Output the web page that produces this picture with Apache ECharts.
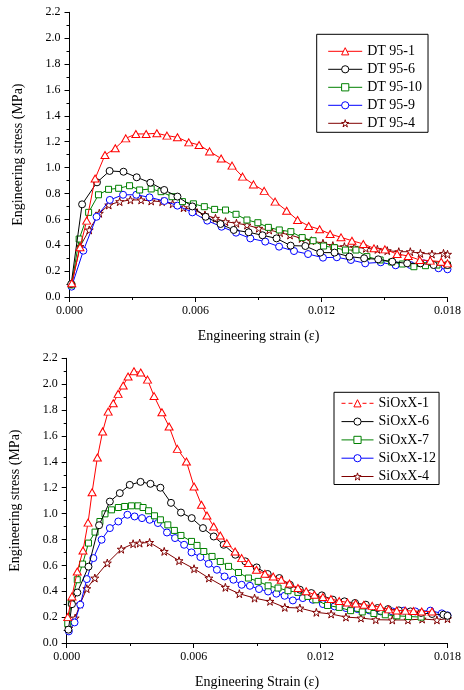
<!DOCTYPE html>
<html>
<head>
<meta charset="utf-8">
<script src="https://cdn.jsdelivr.net/npm/echarts@6/dist/echarts.min.js"></script>
<style>html,body{margin:0;padding:0;background:#fff}#c{width:464px;height:690px}</style>
</head>
<body>
<div id="c"></div>
<script>
// ---------- Data (strain, stress MPa) ----------
const topNames = ['DT 95-1', 'DT 95-6', 'DT 95-10', 'DT 95-9', 'DT 95-4'];
const botNames = ['SiOxX-1', 'SiOxX-6', 'SiOxX-7', 'SiOxX-12', 'SiOxX-4'];
const xTicks = [0, 0.006, 0.012, 0.018];
const yTicks = [0, 0.2, 0.4, 0.6, 0.8, 1.0, 1.2, 1.4, 1.6, 1.8, 2.0, 2.2];

const dt95_1 = [[0.00011,0.106],[0.0005,0.384],[0.00082,0.59],[0.00122,0.915],[0.00169,1.097],[0.00218,1.15],[0.00268,1.226],[0.00316,1.26],[0.00365,1.26],[0.00416,1.265],[0.00464,1.247],[0.00514,1.234],[0.00568,1.195],[0.00617,1.175],[0.00667,1.125],[0.00722,1.07],[0.00774,1.015],[0.00824,0.93],[0.00876,0.87],[0.00927,0.82],[0.00979,0.737],[0.01034,0.667],[0.01086,0.595],[0.01139,0.549],[0.01191,0.523],[0.01241,0.487],[0.01293,0.461],[0.01345,0.435],[0.01399,0.41],[0.0145,0.376],[0.01502,0.368],[0.0156,0.332],[0.01613,0.317],[0.01668,0.286],[0.01718,0.281],[0.0177,0.273],[0.018,0.26]];
const dt95_6 = [[0.00008,0.1],[0.0006,0.716],[0.00131,0.886],[0.00191,0.974],[0.00257,0.968],[0.0032,0.925],[0.00385,0.883],[0.00451,0.827],[0.00514,0.776],[0.00585,0.70],[0.00648,0.62],[0.00719,0.564],[0.00782,0.518],[0.00853,0.50],[0.00919,0.477],[0.00986,0.453],[0.01053,0.397],[0.01123,0.394],[0.01194,0.343],[0.01262,0.343],[0.01333,0.312],[0.01403,0.299],[0.0147,0.291],[0.01537,0.273],[0.01608,0.26],[0.01671,0.26],[0.01734,0.247],[0.018,0.247]];
const dt95_10 = [[0.0001,0.093],[0.00046,0.448],[0.00091,0.654],[0.00138,0.79],[0.00186,0.832],[0.00234,0.84],[0.00286,0.86],[0.00334,0.827],[0.00389,0.835],[0.00436,0.814],[0.00488,0.775],[0.00538,0.737],[0.0059,0.72],[0.00642,0.698],[0.00691,0.677],[0.00743,0.672],[0.00793,0.639],[0.00845,0.595],[0.00897,0.574],[0.00947,0.538],[0.00999,0.518],[0.01054,0.505],[0.01108,0.459],[0.0116,0.435],[0.0121,0.394],[0.01262,0.381],[0.01314,0.363],[0.01364,0.363],[0.01416,0.312],[0.01479,0.286],[0.01534,0.27],[0.01585,0.255],[0.0164,0.234],[0.01695,0.242],[0.0175,0.247],[0.018,0.247]];
const dt95_9 = [[0.0001,0.08],[0.00066,0.358],[0.00129,0.62],[0.00192,0.75],[0.00255,0.79],[0.00318,0.79],[0.00381,0.77],[0.00452,0.742],[0.00514,0.706],[0.00585,0.654],[0.00656,0.59],[0.00724,0.543],[0.00793,0.497],[0.00861,0.453],[0.00932,0.428],[0.00998,0.389],[0.01069,0.355],[0.01136,0.332],[0.01207,0.304],[0.01273,0.307],[0.0134,0.286],[0.01408,0.26],[0.01482,0.268],[0.01553,0.245],[0.01624,0.247],[0.01687,0.26],[0.01757,0.222],[0.018,0.214]];
const dt95_4 = [[0.0001,0.093],[0.0005,0.39],[0.00094,0.518],[0.00142,0.647],[0.00187,0.711],[0.00239,0.737],[0.0029,0.75],[0.00341,0.75],[0.00389,0.742],[0.00441,0.737],[0.00491,0.72],[0.00543,0.69],[0.00593,0.672],[0.00645,0.634],[0.00695,0.608],[0.00743,0.582],[0.00795,0.57],[0.00845,0.556],[0.00901,0.531],[0.00951,0.518],[0.01003,0.497],[0.0105,0.479],[0.01105,0.453],[0.01152,0.435],[0.01207,0.415],[0.01254,0.397],[0.01309,0.389],[0.01356,0.384],[0.01411,0.376],[0.01466,0.368],[0.01513,0.358],[0.01568,0.35],[0.01623,0.35],[0.01671,0.337],[0.01726,0.332],[0.01781,0.337],[0.018,0.33]];

const siox_1 = [[0.00005,0.2],[0.00025,0.36],[0.0005,0.553],[0.00077,0.715],[0.00101,0.93],[0.0012,1.165],[0.00145,1.433],[0.0017,1.635],[0.00196,1.788],[0.0022,1.853],[0.00243,1.925],[0.00267,1.99],[0.0029,2.059],[0.00318,2.1],[0.0035,2.09],[0.00382,2.035],[0.00413,1.908],[0.0045,1.783],[0.00484,1.673],[0.00523,1.50],[0.00566,1.402],[0.00602,1.209],[0.00637,1.068],[0.00663,0.985],[0.00695,0.9],[0.00726,0.831],[0.00757,0.772],[0.00796,0.707],[0.00827,0.656],[0.00859,0.618],[0.00897,0.566],[0.00937,0.535],[0.00976,0.514],[0.01014,0.489],[0.01053,0.46],[0.01093,0.425],[0.01132,0.4],[0.01171,0.373],[0.01211,0.355],[0.01249,0.34],[0.01288,0.325],[0.01327,0.313],[0.01366,0.305],[0.01405,0.296],[0.01444,0.287],[0.01483,0.277],[0.01522,0.26],[0.0156,0.251],[0.016,0.25],[0.01639,0.247],[0.01678,0.244],[0.01727,0.244]];
const siox_6 = [[0.00008,0.103],[0.00025,0.3],[0.0005,0.39],[0.00103,0.59],[0.00153,0.91],[0.00204,1.093],[0.00251,1.158],[0.00298,1.222],[0.00349,1.245],[0.00396,1.23],[0.00443,1.2],[0.00493,1.083],[0.0054,1.008],[0.00591,0.965],[0.00644,0.888],[0.00695,0.823],[0.00742,0.759],[0.00797,0.682],[0.00844,0.631],[0.00898,0.584],[0.0095,0.533],[0.01005,0.502],[0.01055,0.45],[0.01102,0.412],[0.01156,0.386],[0.01206,0.368],[0.01258,0.335],[0.01313,0.322],[0.01363,0.309],[0.01414,0.296],[0.01469,0.27],[0.01519,0.262],[0.0157,0.252],[0.01625,0.244],[0.01675,0.232],[0.01727,0.224],[0.01781,0.219],[0.018,0.21]];
const siox_7 = [[0.00005,0.15],[0.00022,0.309],[0.0005,0.489],[0.00075,0.61],[0.00103,0.772],[0.00134,0.857],[0.00157,0.939],[0.00181,0.998],[0.00212,1.029],[0.00244,1.047],[0.00274,1.055],[0.00306,1.06],[0.00337,1.06],[0.00361,1.047],[0.00387,1.022],[0.00415,0.983],[0.00443,0.952],[0.00478,0.913],[0.00509,0.87],[0.0054,0.831],[0.0059,0.785],[0.00616,0.754],[0.00648,0.707],[0.00687,0.669],[0.00726,0.63],[0.00765,0.592],[0.00812,0.545],[0.00859,0.502],[0.00905,0.476],[0.00952,0.442],[0.00999,0.425],[0.01046,0.404],[0.01093,0.391],[0.0114,0.36],[0.01178,0.334],[0.01233,0.29],[0.01288,0.275],[0.01342,0.25],[0.01397,0.24],[0.01452,0.228],[0.01506,0.218],[0.01561,0.21],[0.01616,0.205],[0.01675,0.2]];
const siox_12 = [[0.0001,0.09],[0.00037,0.159],[0.00064,0.296],[0.00095,0.494],[0.00126,0.656],[0.00165,0.798],[0.00204,0.888],[0.00244,0.939],[0.00287,0.991],[0.00321,0.978],[0.00356,0.965],[0.00392,0.952],[0.00431,0.927],[0.00474,0.854],[0.00512,0.811],[0.00555,0.759],[0.0059,0.7],[0.00632,0.664],[0.00671,0.612],[0.0071,0.566],[0.00746,0.514],[0.00788,0.489],[0.00827,0.45],[0.00866,0.442],[0.00909,0.417],[0.00952,0.398],[0.00991,0.381],[0.0103,0.365],[0.01069,0.329],[0.01116,0.347],[0.01163,0.334],[0.01211,0.301],[0.01266,0.283],[0.0132,0.27],[0.01375,0.262],[0.0143,0.252],[0.01484,0.244],[0.01539,0.244],[0.01594,0.25],[0.01648,0.244],[0.01719,0.25],[0.01773,0.229],[0.018,0.214]];
const siox_4 = [[0.0001,0.116],[0.0004,0.193],[0.00063,0.3],[0.00095,0.42],[0.00133,0.502],[0.00192,0.618],[0.00258,0.725],[0.00314,0.767],[0.00345,0.772],[0.00392,0.777],[0.00461,0.708],[0.00531,0.636],[0.00602,0.574],[0.00672,0.502],[0.0075,0.43],[0.00816,0.381],[0.00888,0.347],[0.00961,0.322],[0.01031,0.275],[0.01102,0.27],[0.0118,0.237],[0.0125,0.224],[0.0132,0.2],[0.01391,0.193],[0.01461,0.18],[0.01539,0.178],[0.01613,0.178],[0.0168,0.185],[0.0175,0.178],[0.018,0.188]];

const topData = [dt95_1, dt95_6, dt95_10, dt95_9, dt95_4];
const botData = [siox_1, siox_6, siox_7, siox_12, siox_4];
const colors = ['#ff0000', '#000000', '#008000', '#0000ff', '#800000'];

// ---------- styling ----------
const FONT = 'Liberation Serif';
const STAR = 'path://M50,0 L61,35 L98,35 L68,57 L79,91 L50,70 L21,91 L32,57 L2,35 L39,35 Z';
const symbols = ['triangle', 'circle', 'rect', 'circle', STAR];
const symSizes = [[8, 7], 7, 6, 7, 8];

function xAxisCfg(gi, name) {
  return {
    type: 'value', gridIndex: gi, min: 0, max: 0.018, interval: 0.006,
    name: name, nameLocation: 'middle', nameGap: 32,
    nameTextStyle: {fontFamily: FONT, fontSize: 14, color: '#000'},
    axisLine: {show: true, onZero: false, lineStyle: {color: '#000', width: 1}},
    axisTick: {show: true, inside: false, length: 5, lineStyle: {color: '#000'}},
    minorTick: {show: true, splitNumber: 2, length: 3, lineStyle: {color: '#000'}},
    splitLine: {show: false},
    axisLabel: {fontFamily: FONT, fontSize: 12, color: '#000', margin: 8,
      formatter: v => v.toFixed(3)}
  };
}
function yAxisCfg(gi) {
  return {
    type: 'value', gridIndex: gi, min: 0, max: 2.2, interval: 0.2,
    name: 'Engineering stress (MPa)', nameLocation: 'middle', nameGap: 44,
    nameTextStyle: {fontFamily: FONT, fontSize: 14, color: '#000'},
    axisLine: {show: true, lineStyle: {color: '#000', width: 1}},
    axisTick: {show: true, inside: false, length: 5, lineStyle: {color: '#000'}},
    minorTick: {show: true, splitNumber: 2, length: 3, lineStyle: {color: '#000'}},
    splitLine: {show: false},
    axisLabel: {fontFamily: FONT, fontSize: 12, color: '#000', margin: 9,
      formatter: v => v.toFixed(1)}
  };
}

const series = [];
function addSeries(names, datas, gi) {
  names.forEach((n, i) => {
    series.push({
      name: n, type: 'line', xAxisIndex: gi, yAxisIndex: gi,
      data: datas[i], smooth: false, showSymbol: true, showAllSymbol: true,
      symbol: symbols[i], symbolSize: symSizes[i],
      lineStyle: {color: colors[i], width: 1},
      itemStyle: {color: '#fff', borderColor: colors[i], borderWidth: 1},
      emphasis: {disabled: true},
      z: 10 - i
    });
  });
}
addSeries(topNames, topData, 0);
addSeries(botNames, botData, 1);

const legendText = {fontFamily: FONT, fontSize: 14, color: '#000', lineHeight: 16};
const option = {
  animation: false,
  backgroundColor: '#fff',
  grid: [
    {left: 69.5, top: 12.3, width: 381, height: 284.7},
    {left: 66.7, top: 358.3, width: 384, height: 285}
  ],
  xAxis: [xAxisCfg(0, 'Engineering strain (ε)'), xAxisCfg(1, 'Engineering Strain (ε)')],
  yAxis: [yAxisCfg(0), yAxisCfg(1)],
  legend: [
    {
      data: topNames, orient: 'vertical', left: 316.7, top: 34.3,
      itemWidth: 34, itemHeight: 9, itemGap: 2,
      padding: [9, 6, 1, 11],
      borderColor: '#000', borderWidth: 1,
      itemStyle: {borderWidth: 1},
      lineStyle: {width: 1},
      textStyle: legendText, selectedMode: false
    },
    {
      data: [{name: 'SiOxX-1', lineStyle: {type: [4, 3], width: 1}}, 'SiOxX-6', 'SiOxX-7', 'SiOxX-12', 'SiOxX-4'],
      orient: 'vertical', left: 334, top: 392.3,
      itemWidth: 32, itemHeight: 9, itemGap: 2.3,
      padding: [3, 3, 0, 7],
      borderColor: '#000', borderWidth: 1,
      itemStyle: {borderWidth: 1},
      lineStyle: {width: 1},
      textStyle: legendText, selectedMode: false
    }
  ],
  series: series
};
const chart = echarts.init(document.getElementById('c'), null, {renderer: 'canvas'});
chart.setOption(option);
</script>
</body>
</html>
